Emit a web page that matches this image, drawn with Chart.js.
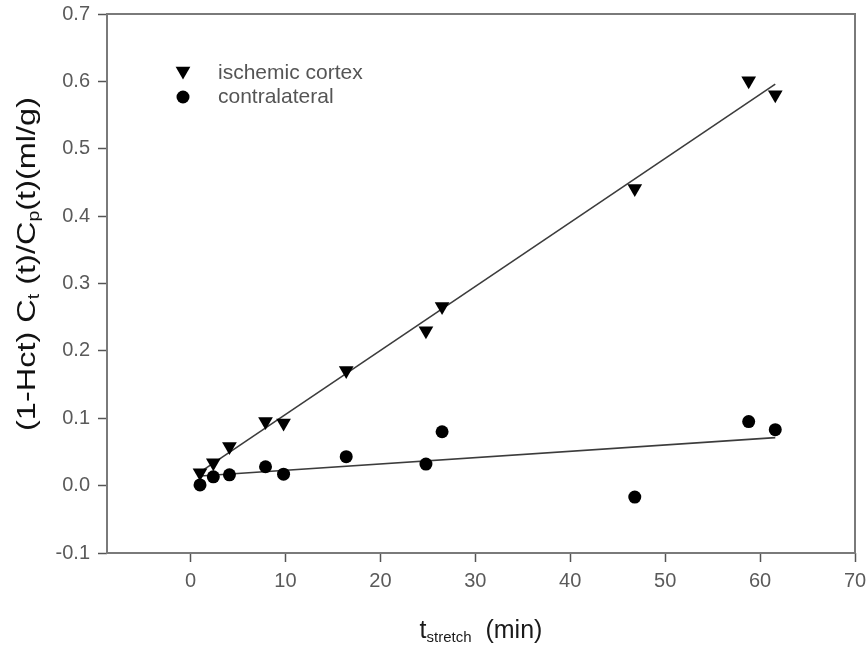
<!DOCTYPE html>
<html>
<head>
<meta charset="utf-8">
<script src="https://cdn.jsdelivr.net/npm/chart.js@4.4.1/dist/chart.umd.min.js"></script>
<style>
body{margin:0;background:#fff;font-family:"Liberation Sans",Arial,sans-serif}
#wrap{position:relative;width:866px;height:650px}
#xt{position:absolute;left:107px;width:748px;top:617px;text-align:center;font-size:25px;line-height:1;color:#1a1a1a}
#yt{position:absolute;left:26px;top:264px;transform:translate(-50%,-50%) rotate(-90deg) scaleX(1.25);white-space:nowrap;font-size:26px;line-height:1;color:#111}
sub{font-size:60%;line-height:0;vertical-align:-0.25em}
</style>
</head>
<body>
<div id="wrap">
  <canvas id="c" width="866" height="650"></canvas>
  <div id="yt">(1-Hct) C<sub>t</sub> (t)/C<sub>p</sub>(t)(ml/g)</div>
  <div id="xt">t<sub>stretch</sub>&nbsp; (min)</div>
</div>
<script>
// time points (min) shared by both series
const tStretch=[1.0,2.4,4.1,7.9,9.8,16.4,24.8,26.5,46.8,58.8,61.6];
const ischemic=[0.019,0.034,0.058,0.095,0.093,0.171,0.230,0.266,0.441,0.601,0.580];
const contra=[0.001,0.013,0.016,0.028,0.017,0.043,0.032,0.080,-0.017,0.095,0.083];
const seriesNames=['ischemic cortex','contralateral'];
const xTicks=[0,10,20,30,40,50,60,70];
const yTicks=[-0.1,0,0.1,0.2,0.3,0.4,0.5,0.6,0.7];

const pts=ys=>tStretch.map((t,i)=>({x:t,y:ys[i]}));
// least squares line over the data range
function fitLine(ys){
  const n=tStretch.length;
  const mx=tStretch.reduce((a,b)=>a+b,0)/n, my=ys.reduce((a,b)=>a+b,0)/n;
  let sxy=0,sxx=0;
  tStretch.forEach((t,i)=>{sxy+=(t-mx)*(ys[i]-my);sxx+=(t-mx)*(t-mx);});
  const b=sxy/sxx,a=my-b*mx;
  const x0=Math.min(...tStretch),x1=Math.max(...tStretch);
  return [{x:x0,y:a+b*x0},{x:x1,y:a+b*x1}];
}

const legendItems=[
  {text:seriesNames[0],style:'triangle',r:8.5,rot:180},
  {text:seriesNames[1],style:'circle',r:6.5,rot:0}
];

const framePlugin={
  id:'frame',
  beforeDatasetsDraw(chart){
    const {ctx,chartArea:a}=chart;
    ctx.save();
    ctx.strokeStyle='#7a7a7a';ctx.lineWidth=2;
    ctx.strokeRect(a.left,a.top,a.right-a.left,a.bottom-a.top);
    ctx.restore();
  },
  afterDraw(chart){
    const {ctx,chartArea:a}=chart;
    ctx.save();
    legendItems.forEach((it,i)=>{
      const y=a.top+59+i*24;
      ctx.fillStyle='#000';
      Chart.helpers.drawPoint(ctx,{pointStyle:it.style,radius:it.r,rotation:it.rot,borderWidth:0},a.left+76,y-(it.style==='triangle'?2:0));
      ctx.font='21px "Liberation Sans", Arial, sans-serif';
      ctx.fillStyle='#555';
      ctx.textBaseline='middle';
      ctx.fillText(it.text,a.left+111,y);
    });
    ctx.restore();
  }
};

const tickFont={family:'"Liberation Sans", Arial, sans-serif',size:20};

new Chart(document.getElementById('c'),{
  type:'scatter',
  data:{datasets:[
    {label:seriesNames[0],data:pts(ischemic),pointStyle:'triangle',rotation:180,pointRadius:8.5,backgroundColor:'#000',borderWidth:0},
    {label:seriesNames[1],data:pts(contra),pointStyle:'circle',pointRadius:6.5,backgroundColor:'#000',borderWidth:0},
    {label:'fit1',data:fitLine(ischemic),showLine:true,pointRadius:0,borderColor:'#3c3c3c',borderWidth:1.6},
    {label:'fit2',data:fitLine(contra),showLine:true,pointRadius:0,borderColor:'#3c3c3c',borderWidth:1.6}
  ]},
  options:{
    responsive:false,animation:false,
    layout:{padding:{top:14,right:11,left:0,bottom:0}},
    plugins:{legend:{display:false},tooltip:{enabled:false}},
    scales:{
      x:{type:'linear',min:-8.8,max:70,
        afterBuildTicks:s=>{s.ticks=xTicks.map(v=>({value:v}));},
        afterFit:s=>{s.height=97;s.paddingLeft=0;s.paddingRight=0;},
        border:{display:false},
        grid:{drawOnChartArea:false,tickLength:9,tickColor:'#555',tickWidth:1.5},
        ticks:{font:tickFont,color:'#5a5a5a',padding:7,maxRotation:0}},
      y:{type:'linear',min:-0.1,max:0.7,
        afterBuildTicks:s=>{s.ticks=yTicks.map(v=>({value:v}));},
        afterFit:s=>{s.width=107;s.paddingTop=0;s.paddingBottom=0;},
        border:{display:false},
        grid:{drawOnChartArea:false,tickLength:9,tickColor:'#555',tickWidth:1.5},
        ticks:{font:tickFont,color:'#5a5a5a',padding:8,callback:v=>Number(v).toFixed(1)}}
    }
  },
  plugins:[framePlugin]
});
</script>
</body>
</html>
